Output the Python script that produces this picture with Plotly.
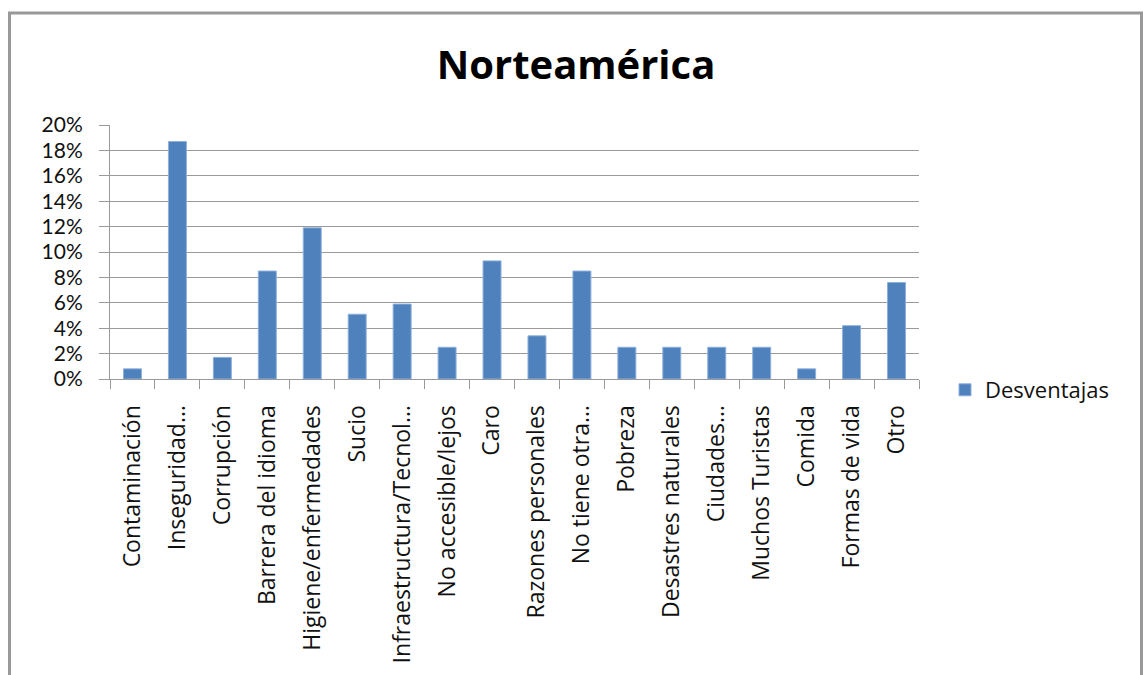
import plotly.graph_objects as go

categories = [
    "Contaminación", "Inseguridad…", "Corrupción", "Barrera del idioma",
    "Higiene/enfermedades", "Sucio", "Infraestructura/Tecnol…", "No accesible/lejos",
    "Caro", "Razones personales", "No tiene otra…", "Pobreza",
    "Desastres naturales", "Ciudades…", "Muchos Turistas", "Comida",
    "Formas de vida", "Otro",
]
values_pct = [0.8, 18.7, 1.7, 8.5, 11.9, 5.1, 5.9, 2.5, 9.3, 3.4, 8.5, 2.5, 2.5, 2.5, 2.5, 0.8, 4.2, 7.6]
series_name = "Desventajas"
title_text = "Norteamérica"
y_ticks = [0, 2, 4, 6, 8, 10, 12, 14, 16, 18, 20]

W, H = 1143, 675
L, R, T, B = 110, 919, 125, 379

def px_to_paper_x(px):
    return (px - L) / (R - L)

def px_to_paper_y(py):
    return (B - py) / (B - T)

FONT = "Open Sans"
GRID = "#9a9a9a"

fig = go.Figure()
fig.add_trace(go.Bar(
    x=categories, y=values_pct, name=series_name,
    marker=dict(color="#4F81BD", line=dict(color="#8DB0DC", width=1)),
    showlegend=True,
))

fig.update_layout(
    width=W, height=H,
    margin=dict(l=L, r=W - R, t=T, b=H - B, autoexpand=False),
    paper_bgcolor="white", plot_bgcolor="white",
    bargap=0.6,
    font=dict(family=FONT, color="#111111"),
    title=dict(text="<b>" + title_text + "</b>", font=dict(family=FONT, size=40, color="#000000"),
               x=576 / W, xref="container", xanchor="center",
               y=1 - 65 / H, yref="container", yanchor="middle"),
    showlegend=True,
    legend=dict(x=px_to_paper_x(945), xanchor="left", y=px_to_paper_y(390), yanchor="middle",
                font=dict(family=FONT, size=22, color="#111111"), bgcolor="rgba(0,0,0,0)"),
    xaxis=dict(
        type="category", tickangle=-90, tickson="boundaries",
        ticks="outside", ticklen=9, tickcolor=GRID, tickwidth=1,
        showline=True, linecolor=GRID, linewidth=1,
        showgrid=False, tickfont=dict(family=FONT, size=23, color="#111111"),
        ticklabelstandoff=16,
    ),
    yaxis=dict(
        range=[0, 20], tickvals=y_ticks, ticktext=[f"{v}%" for v in y_ticks],
        ticks="outside", ticklen=10, tickcolor=GRID, tickwidth=1,
        showline=True, linecolor=GRID, linewidth=1,
        showgrid=True, gridcolor=GRID, gridwidth=1, zeroline=False,
        tickfont=dict(family="Lato", size=21, color="#111111"),
        ticklabelstandoff=12,
    ),
    shapes=[dict(type="rect", xref="paper", yref="paper",
                 x0=px_to_paper_x(9.5), x1=px_to_paper_x(1141.5),
                 y0=px_to_paper_y(700), y1=px_to_paper_y(13),
                 line=dict(color="#999999", width=3), fillcolor="rgba(0,0,0,0)", layer="below")],
)

fig.write_html("out.html")
